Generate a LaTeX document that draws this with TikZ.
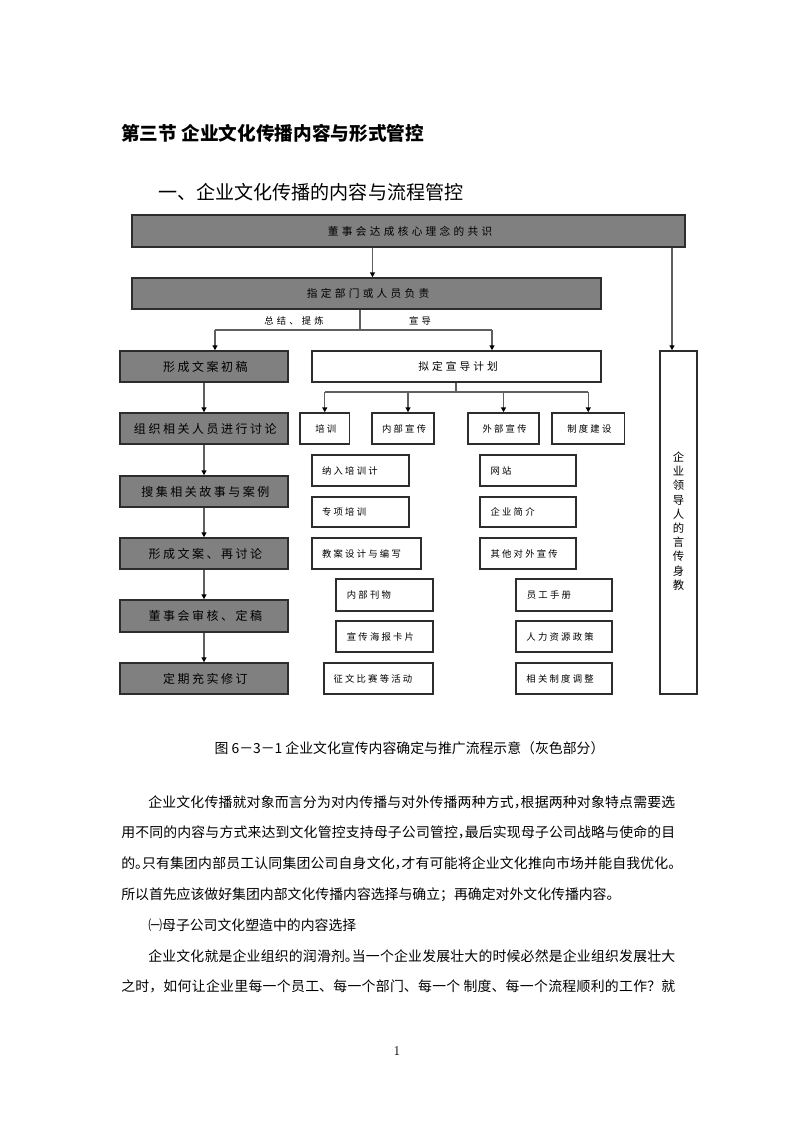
\documentclass[tikz,border=0pt]{standalone}
\usepackage{fontspec}
\usetikzlibrary{fit,arrows.meta,backgrounds}
\newfontfamily\cjk{Noto Sans CJK SC}
\newfontfamily\cjkA{Noto Sans CJK SC}[LetterSpace=31]
\newfontfamily\cjkB{Noto Sans CJK SC}[LetterSpace=21]
\newfontfamily\cjkC{Noto Sans CJK SC}[LetterSpace=24]
\newfontfamily\cjkD{Noto Sans CJK SC}[LetterSpace=34]
\newfontfamily\cjkE{Noto Sans CJK SC}[LetterSpace=29]
\XeTeXlinebreaklocale "zh"
\XeTeXlinebreakskip=0pt plus 4pt
\setlength{\parindent}{0pt}
\definecolor{gfill}{RGB}{128,128,128}
\definecolor{bdr}{RGB}{45,45,45}
\definecolor{lnc}{RGB}{95,95,95}
\newcommand\hp[1]{\makebox[0.5em][l]{#1}}
\newcommand\bx[6]{\node[#6, fit={(#2,#3) (#4,#5)}] (#1) {};}
\begin{document}
\begin{tikzpicture}[x=0.75pt,y=-0.75pt,
  gbox/.style={draw=bdr, fill=gfill, line width=1.1pt, inner sep=0pt},
  wbox/.style={draw=bdr, fill=white, line width=1.1pt, inner sep=0pt},
  gtext/.style={inner sep=0pt, xshift=1.2pt, font=\cjkA\fontsize{8}{10}\selectfont},
  ltext/.style={inner sep=0pt, xshift=1pt, font=\cjkB\fontsize{9}{11}\selectfont},
  ctext/.style={inner sep=0pt, xshift=0.8pt, font=\cjkC\fontsize{7}{9}\selectfont},
  ptext/.style={inner sep=0pt, xshift=1.2pt, font=\cjkE\fontsize{8}{10}\selectfont},
  stext/.style={anchor=west, inner sep=0pt, font=\cjkC\fontsize{7}{9}\selectfont},
  lbl/.style={fill=white, inner sep=0pt, minimum height=15pt, font=\cjkD\fontsize{7}{9}\selectfont},
  conn/.style={draw=lnc, line width=1.1pt},
  arr/.style={conn, -{Triangle[length=3.6pt,width=3.6pt,color=black]}},
  body/.style={anchor=west, inner sep=0pt, font=\cjk\fontsize{10.4}{12}\selectfont, align=justify},
  full/.style={execute at begin node={\parfillskip=0pt\relax}}
]
\path[use as bounding box, fill=white] (0,0) rectangle (794,1123);

% headings
\node[anchor=west, inner sep=0pt, font=\cjk\bfseries\fontsize{14}{16}\selectfont] (title) at (121,133) {第三节 企业文化传播内容与形式管控};
\node[anchor=west, inner sep=0pt, font=\cjk\fontsize{14.3}{18}\selectfont] (subtitle) at (158,192) {一、企业文化传播的内容与流程管控};

% top boxes
\bx{top}{132}{215}{685}{247}{gbox}
\node[gtext] (topt) at (top) {董事会达成核心理念的共识};
\bx{zd}{132}{278}{601}{309}{gbox}
\node[gtext] (zdt) at (zd) {指定部门或人员负责};

% labels (white patches over the box edge)
\node[lbl, minimum width=63pt] (lab1) at (294,320.5) {总结、提炼};
\node[lbl, minimum width=35.5pt] (lab2) at (420,320.5) {宣导};

% left column
\bx{b1}{120}{351}{288}{382}{gbox}
\bx{b2}{120}{413}{288}{444}{gbox}
\bx{b3}{120}{476}{288}{507}{gbox}
\bx{b4}{120}{538}{288}{569}{gbox}
\bx{b5}{120}{600}{288}{632}{gbox}
\bx{b6}{120}{663}{288}{694}{gbox}
\node[ltext] (b1t) at (b1) {形成文案初稿};
\node[ltext] (b2t) at (b2) {组织相关人员进行讨论};
\node[ltext] (b3t) at (b3) {搜集相关故事与案例};
\node[ltext] (b4t) at (b4) {形成文案、再讨论};
\node[ltext] (b5t) at (b5) {董事会审核、定稿};
\node[ltext] (b6t) at (b6) {定期充实修订};

% plan box
\bx{nd}{312}{351}{601}{382}{wbox}
\node[ptext] (ndt) at (nd) {拟定宣导计划};

% categories
\bx{c1}{300}{413}{349.5}{444}{wbox}
\bx{c2}{372}{413}{434}{444}{wbox}
\bx{c3}{468}{413}{539}{444}{wbox}
\bx{c4}{552}{413}{624.5}{444}{wbox}
\node[ctext] (c1t) at (c1) {培训};
\node[ctext] (c2t) at (c2) {内部宣传};
\node[ctext] (c3t) at (c3) {外部宣传};
\node[ctext] (c4t) at (c4) {制度建设};

% sub boxes
\bx{s1}{312}{455}{409}{486}{wbox}
\bx{s2}{312}{497}{409}{527}{wbox}
\bx{s3}{312}{538}{421}{569}{wbox}
\bx{s4}{336}{579}{433}{611}{wbox}
\bx{s5}{336}{621}{433}{652}{wbox}
\bx{s6}{324}{663}{433}{694}{wbox}
\bx{w1}{480}{455}{576}{486}{wbox}
\bx{w2}{480}{497}{576}{527}{wbox}
\bx{w3}{480}{538}{576}{569}{wbox}
\bx{z1}{516}{579}{612}{611}{wbox}
\bx{z2}{516}{621}{612}{652}{wbox}
\bx{z3}{516}{663}{612}{694}{wbox}

\node[stext] (t1) at ([xshift=7.9pt]s1.west) {纳入培训计};
\node[stext] (t2) at ([xshift=7.9pt]s2.west) {专项培训};
\node[stext] (t3) at ([xshift=7.9pt]s3.west) {教案设计与编写};
\node[stext] (t4) at ([xshift=8.5pt]s4.west) {内部刊物};
\node[stext] (t5) at ([xshift=8.5pt]s5.west) {宣传海报卡片};
\node[stext] (t6) at ([xshift=7.5pt]s6.west) {征文比赛等活动};
\node[stext] (t7) at ([xshift=8.3pt]w1.west) {网站};
\node[stext] (t8) at ([xshift=8.3pt]w2.west) {企业简介};
\node[stext] (t9) at ([xshift=8.3pt]w3.west) {其他对外宣传};
\node[stext] (t10) at ([xshift=8.5pt]z1.west) {员工手册};
\node[stext] (t11) at ([xshift=8.2pt]z2.west) {人力资源政策};
\node[stext] (t12) at ([xshift=8.2pt]z3.west) {相关制度调整};

% tall box
\bx{tall}{660}{351}{697}{694}{wbox}
\node[inner sep=0pt, align=center, font=\cjk\fontsize{8.5}{10.65}\selectfont] (vt) at (678.5,521) {企\\业\\领\\导\\人\\的\\言\\传\\身\\教};

% connectors
\coordinate (cA) at (372.5,0);
\coordinate (cR) at (672,0);
\draw[arr] (top.south -| cA) -- (zd.north -| cA);
\draw[arr] (top.south -| cR) -- (tall.north -| cR);

\coordinate (cS) at (360,330);
\coordinate (cL) at (215,330);
\coordinate (cM) at (492,330);
\draw[conn] (zd.south -| cS) -- (cS);
\draw[conn] (cL) -- (cM);
\draw[arr] (cL) -- (b1.north -| cL);
\draw[arr] (cM) -- (nd.north -| cM);

\draw[arr] (b1) -- (b2);
\draw[arr] (b2) -- (b3);
\draw[arr] (b3) -- (b4);
\draw[arr] (b4) -- (b5);
\draw[arr] (b5) -- (b6);

\coordinate (cN) at (456,392);
\coordinate (cN1) at (324.75,392);
\coordinate (cN2) at (408,392);
\coordinate (cN3) at (503.5,392);
\coordinate (cN4) at (588.25,392);
\draw[conn] (nd.south -| cN) -- (cN);
\draw[conn] (cN1) -- (cN4);
\draw[arr] (cN1) -- (c1.north -| cN1);
\draw[arr] (cN2) -- (c2.north -| cN2);
\draw[arr] (cN3) -- (c3.north -| cN3);
\draw[arr] (cN4) -- (c4.north -| cN4);

\begin{scope}[on background layer]
\draw[conn] (c1.south -| s3.west) -- (s3.south west);
\draw[conn] (c2.south -| s6.east) -- (s6.south east);
\draw[conn] (c3.south -| w3.west) -- (w3.south west);
\draw[conn] (c4.south -| z3.east) -- (z3.south east);
\end{scope}

% caption
\node[inner sep=0pt, font=\cjk\fontsize{10.4}{12}\selectfont] (cap) at (409.5,748) {图 6－3－1 企业文化宣传内容确定与推广流程示意（灰色部分）};

% body text
\node[body, full, text width=395.25pt] (p1) at (148,802) {企业文化传播就对象而言分为对内传播与对外传播两种方式\hp{，}根据两种对象特点需要选};
\node[body, full, text width=415.5pt] (p2) at (121,832.8) {用不同的内容与方式来达到文化管控支持母子公司管控\hp{，}最后实现母子公司战略与使命的目};
\node[body, full, text width=415.5pt] (p3) at (121,863.6) {的\hp{。}只有集团内部员工认同集团公司自身文化\hp{，}才有可能将企业文化推向市场并能自我优化\hp{。}};
\node[body, text width=415.5pt] (p4) at (121,894.4) {所以首先应该做好集团内部文化传播内容选择与确立；再确定对外文化传播内容。};
\node[body, text width=395.25pt] (p5) at (148,925.2) {㈠母子公司文化塑造中的内容选择};
\node[body, full, text width=395.25pt] (p6) at (148,956) {企业文化就是企业组织的润滑剂\hp{。}当一个企业发展壮大的时候必然是企业组织发展壮大};
\node[body, full, text width=415.5pt] (p7) at (121,986.8) {之时，如何让企业里每一个员工、每一个部门、每一个 制度、每一个流程顺利的工作？就};

\node[inner sep=0pt, font=\fontsize{10}{12}\selectfont] (pg) at (397,1051) {1};
\end{tikzpicture}
\end{document}
